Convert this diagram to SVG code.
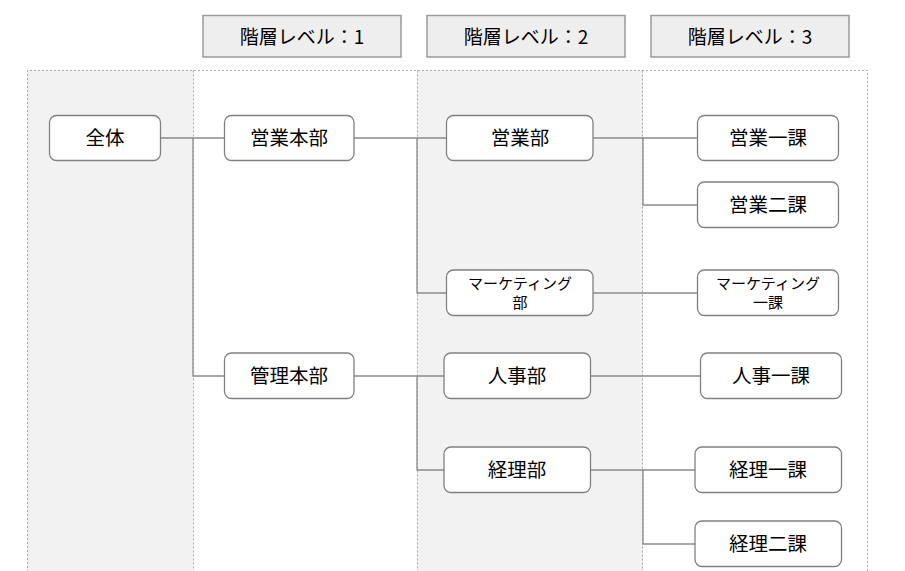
<svg xmlns="http://www.w3.org/2000/svg" width="905" height="571" viewBox="0 0 905 571">
<style>
text{font-family:"Noto Sans CJK JP","Noto Sans",sans-serif;fill:#000;text-anchor:middle;dominant-baseline:central}
.hdr rect{fill:#eeeeee;stroke:#9a9a9a;stroke-width:1.5}
.hdr text{font-size:19px}
.node rect{fill:#fff;stroke:#808080;stroke-width:1.3}
.node text{font-size:19.5px}
.node text.sm{font-size:15px}
.col{stroke:#aaaaaa;stroke-width:1;stroke-dasharray:2 2;fill:none}
.edges path{fill:none;stroke:#8a8a8a;stroke-width:1.3}
</style>
<rect width="905" height="571" fill="#fff"/>
<g id="lanes">
<rect x="27" y="70" width="166" height="510" fill="#f2f2f2"/>
<rect x="417" y="70" width="226" height="510" fill="#f2f2f2"/>
<path class="col" d="M27.5 580V70.5H867.5V580M193.5 70.5V580M417.5 70.5V580M642.5 70.5V580"/>
</g>
<g id="h1" class="hdr"><rect x="203" y="15.5" width="198" height="41.5"/><text x="302" y="35.5">階層レベル：1</text></g>
<g id="h2" class="hdr"><rect x="427" y="15.5" width="198" height="41.5"/><text x="526" y="35.5">階層レベル：2</text></g>
<g id="h3" class="hdr"><rect x="651" y="15.5" width="198" height="41.5"/><text x="750" y="35.5">階層レベル：3</text></g>
<g class="edges" id="connectors">
<path d="M161 138H193V376H224M193 138H224"/>
<path d="M354 138H417V293H446M417 138H446"/>
<path d="M354 376H417V470H444M417 376H444"/>
<path d="M593 138H643V205H697M643 138H697"/>
<path d="M593 293H697"/>
<path d="M591 376H700"/>
<path d="M591 470H643V544H695M643 470H695"/>
</g>
<g id="n_all" class="node"><rect x="49.5" y="115.5" width="111" height="45" rx="7"/><text x="105" y="136.5">全体</text></g>
<g id="n_eigyohonbu" class="node"><rect x="224.5" y="115.5" width="129.5" height="45" rx="7"/><text x="289" y="136.5">営業本部</text></g>
<g id="n_kanrihonbu" class="node"><rect x="224.5" y="353" width="129.5" height="45.5" rx="7"/><text x="289" y="374.5">管理本部</text></g>
<g id="n_eigyobu" class="node"><rect x="446.5" y="115.5" width="146.5" height="45" rx="7"/><text x="520" y="136.5">営業部</text></g>
<g id="n_marketingbu" class="node"><rect x="446.5" y="270" width="146.5" height="45.5" rx="7"/><text class="sm" x="520" y="282">マーケティング</text><text class="sm" x="520" y="301">部</text></g>
<g id="n_jinjibu" class="node"><rect x="444" y="353" width="146.5" height="45.5" rx="7"/><text x="517" y="374.5">人事部</text></g>
<g id="n_keiribu" class="node"><rect x="444" y="447" width="146.5" height="45.5" rx="7"/><text x="517" y="468.5">経理部</text></g>
<g id="n_eigyo1" class="node"><rect x="697.5" y="115.5" width="141" height="45" rx="7"/><text x="768" y="136.5">営業一課</text></g>
<g id="n_eigyo2" class="node"><rect x="697.5" y="182" width="141" height="45.5" rx="7"/><text x="768" y="203.5">営業二課</text></g>
<g id="n_marketing1" class="node"><rect x="697.5" y="270" width="141" height="45.5" rx="7"/><text class="sm" x="768" y="282">マーケティング</text><text class="sm" x="768" y="301">一課</text></g>
<g id="n_jinji1" class="node"><rect x="700.5" y="353" width="141" height="45.5" rx="7"/><text x="771" y="374.5">人事一課</text></g>
<g id="n_keiri1" class="node"><rect x="695" y="447" width="146.5" height="45.5" rx="7"/><text x="768" y="468.5">経理一課</text></g>
<g id="n_keiri2" class="node"><rect x="695" y="521" width="146.5" height="45.5" rx="7"/><text x="768" y="542.5">経理二課</text></g>
</svg>
